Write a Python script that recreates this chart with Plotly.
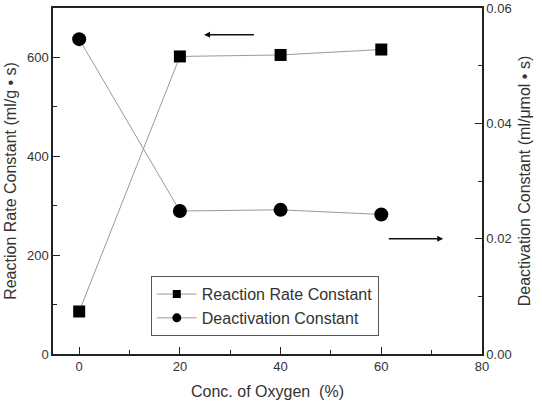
import plotly.graph_objects as go

oxygen = [0, 20, 40, 60]
rate_constant = [86, 602, 605, 616]
deactivation_constant = [0.0546, 0.0248, 0.0250, 0.0242]

x_ticks = [0, 20, 40, 60, 80]
y_ticks = [0, 200, 400, 600]
y2_ticks = [0.00, 0.02, 0.04, 0.06]
y2_labels = ["0.00", "0.02", "0.04", "0.06"]

FONT = "Liberation Sans, Arial, sans-serif"
TXT = "#333333"
AX = "#222222"
LINE = "#9a9a9a"

fig = go.Figure()
fig.add_trace(go.Scatter(
    x=oxygen, y=rate_constant, name="Reaction Rate Constant",
    mode="lines+markers", showlegend=False,
    line=dict(color=LINE, width=1),
    marker=dict(symbol="square", size=12, color="black"),
    yaxis="y",
))
fig.add_trace(go.Scatter(
    x=oxygen, y=deactivation_constant, name="Deactivation Constant",
    mode="lines+markers", showlegend=False,
    line=dict(color=LINE, width=1),
    marker=dict(symbol="circle", size=14, color="black"),
    yaxis="y2",
))
# legend entries (smaller symbols like the reference legend)
fig.add_trace(go.Scatter(
    x=[None], y=[None], name="Reaction Rate Constant", mode="lines+markers",
    line=dict(color=LINE, width=1), marker=dict(symbol="square", size=8, color="black"),
))
fig.add_trace(go.Scatter(
    x=[None], y=[None], name="Deactivation Constant", mode="lines+markers",
    line=dict(color=LINE, width=1), marker=dict(symbol="circle", size=9, color="black"),
))

axis_common = dict(
    showline=True, linecolor=AX, linewidth=1.5,
    ticks="inside", ticklen=7, tickwidth=1, tickcolor=AX,
    showgrid=False, zeroline=False, automargin=False,
    tickfont=dict(family=FONT, size=13, color=TXT),
)

fig.update_layout(
    width=542, height=401,
    margin=dict(l=53, r=60, t=8, b=47),
    plot_bgcolor="white", paper_bgcolor="white",
    font=dict(family=FONT, color=TXT),
    xaxis=dict(
        range=[-5.2, 80], tickvals=x_ticks, mirror=True,
        minor=dict(ticks="inside", ticklen=4, dtick=10, tick0=0, tickcolor=AX),
        title=dict(text="Conc. of Oxygen  (%)", font=dict(family=FONT, size=16, color=TXT), standoff=12),
        **axis_common,
    ),
    yaxis=dict(
        range=[0, 700], tickvals=y_ticks,
        minor=dict(ticks="inside", ticklen=4, dtick=100, tick0=0, tickcolor=AX),
        title=dict(text="Reaction Rate Constant (ml/g • s)", font=dict(family=FONT, size=16, color=TXT), standoff=6),
        **axis_common,
    ),
    yaxis2=dict(
        range=[0, 0.06], tickvals=y2_ticks, ticktext=y2_labels,
        overlaying="y", side="right",
        minor=dict(ticks="inside", ticklen=4, dtick=0.01, tick0=0, tickcolor=AX),
        title=dict(text="Deactivation Constant (ml/μmol • s)", font=dict(family=FONT, size=16, color=TXT), standoff=8),
        **axis_common,
    ),
    legend=dict(
        x=0.228, y=0.225, xanchor="left", yanchor="top",
        bordercolor="#555555", borderwidth=1, bgcolor="white",
        font=dict(family=FONT, size=16, color=TXT),
        tracegroupgap=0, itemwidth=40,
    ),
    showlegend=True,
)

# direction arrows (in data coordinates)
fig.add_annotation(x=24.8, y=646, ax=35, ay=646, xref="x", yref="y", axref="x", ayref="y",
                   showarrow=True, arrowhead=2, arrowsize=0.8, arrowwidth=1.5, arrowcolor="#111111", text="")
fig.add_annotation(x=72.3, y=0.02, ax=61.2, ay=0.02, xref="x", yref="y2", axref="x", ayref="y2",
                   showarrow=True, arrowhead=2, arrowsize=0.8, arrowwidth=1.5, arrowcolor="#111111", text="")

fig.write_html("out.html")
